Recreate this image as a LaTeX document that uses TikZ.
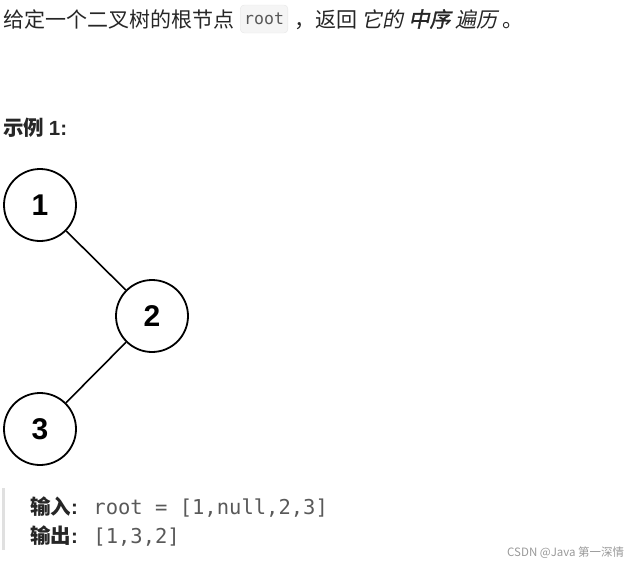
\documentclass[tikz,border=0pt]{standalone}
\usepackage{fontspec}
\setmainfont{Liberation Sans}
\setmonofont{DejaVu Sans Mono}
\newfontfamily\cjk{Noto Sans CJK SC}
\newfontfamily\cjkit[FakeSlant=0.2]{Noto Sans CJK SC}
\newfontfamily\cjkbfit[FakeSlant=0.2,FakeBold=1.5]{Noto Sans CJK SC}
\usetikzlibrary{positioning}
\definecolor{txtgray}{HTML}{262626}
\definecolor{codegray}{HTML}{595959}
\definecolor{codebg}{HTML}{F5F5F5}
\definecolor{codeline}{HTML}{E6E6E6}
\definecolor{quotebar}{HTML}{E0E0E0}

\begin{document}
\begin{tikzpicture}[
    x=1pt, y=-1pt,
    % --- STYLES ---
    treenode/.style={
        circle, draw=black, line width=1.8pt,
        minimum size=72pt, inner sep=0pt,
        font=\fontsize{30}{32}\selectfont\bfseries
    },
    treeedge/.style={line width=1.6pt},
    plain/.style={anchor=base west, inner sep=0pt, text=txtgray,
        font=\fontsize{21}{24}\selectfont\cjk},
    label/.style={plain, font=\fontsize{20.5}{24}\selectfont\cjk\bfseries},
    monotext/.style={plain, font=\fontsize{20.5}{24}\selectfont\ttfamily, text=codegray},
    codebox/.style={rounded corners=4pt, fill=codebg, draw=codeline,
        inner xsep=4pt, inner ysep=0pt, minimum height=28pt,
        font=\fontsize{16.5}{18}\selectfont\ttfamily, text=codegray}
]
\useasboundingbox (0,0) rectangle (629,563);

% ===== 1. TITLE LINE =====
\node[plain] (title) at (3,27) {给定一个二叉树的根节点};
\node[codebox, anchor=west] (code) at (240,19) {root};
\node[plain] (rest) at (294,27) {，返回 {\cjkit 它的} {\cjkbfit 中序} {\cjkit 遍历} 。};

\node[label] (example) at (3,135) {示例 {\rmfamily\bfseries 1:}};

% ===== 2. TREE =====
\node[treenode] (n1) at (40,205) {1};
\node[treenode] (n2) at (152,316) {2};
\node[treenode] (n3) at (40,429) {3};

\draw[treeedge] (n1) -- (n2);
\draw[treeedge] (n2) -- (n3);

% ===== 3. INPUT / OUTPUT =====
\fill[quotebar] (2,488) rectangle (5,550);
\node[label] (inlab) at (30,514) {输入{\rmfamily\bfseries :}};
\node[monotext, right=15pt of inlab.base east, anchor=base west] (inval) {root = [1,null,2,3]};
\node[label] (outlab) at (30,543) {输出{\rmfamily\bfseries :}};
\node[monotext, right=15pt of outlab.base east, anchor=base west] (outval) {[1,3,2]};

% watermark
\node[plain, font=\fontsize{11.5}{14}\selectfont\cjk, text=black!40] (mark) at (507,556) {CSDN @Java 第一深情};
\end{tikzpicture}
\end{document}
